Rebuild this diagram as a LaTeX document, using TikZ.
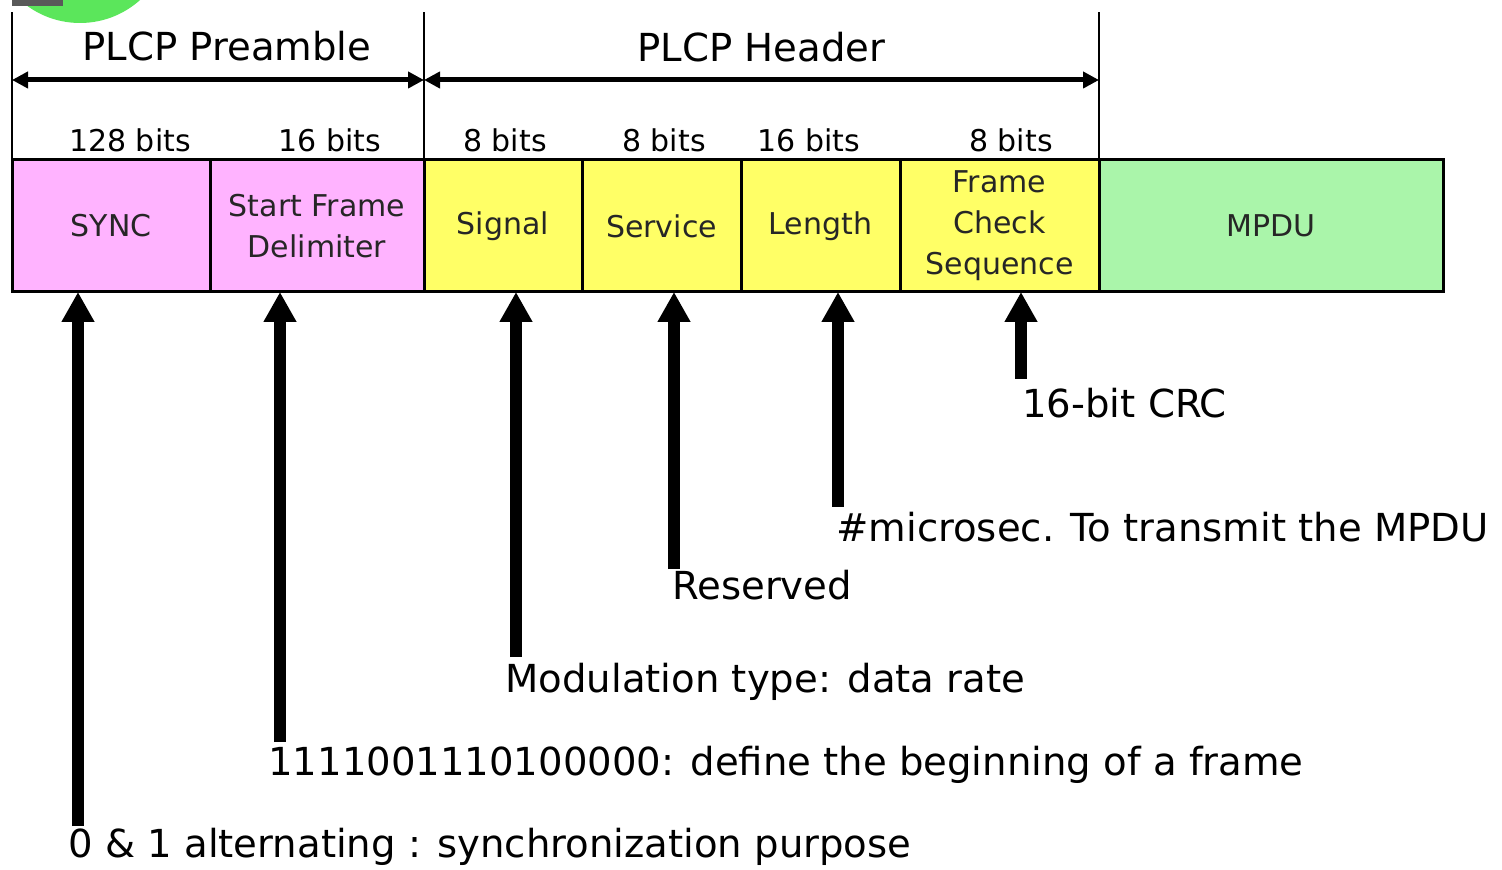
\documentclass[tikz,border=0pt]{standalone}
\usepackage{fontspec}
\setmainfont{DejaVu Sans}
\usetikzlibrary{arrows.meta,positioning}
\definecolor{preamblepink}{HTML}{FFB3FF}
\definecolor{headeryellow}{HTML}{FFFF66}
\definecolor{mpdugreen}{HTML}{AAF5AA}
\definecolor{blobgreen}{HTML}{5BE65B}
\tikzset{
  field/.style={draw,line width=1.5pt,minimum height=66pt,inner sep=0pt,outer sep=0pt,
    align=center,text=black!85,font=\fontsize{15}{20.5}\selectfont},
  bits/.style={anchor=base,inner sep=0pt,font=\fontsize{15}{18}\selectfont},
  big/.style={inner sep=0pt,font=\fontsize{19.3}{23}\selectfont},
  note/.style={big,anchor=base west},
  bar/.style={line width=1pt},
  span/.style={line width=2.5pt,{Triangle[width=8pt,length=8pt]}-{Triangle[width=8pt,length=8pt]}},
  pointer/.style={line width=6pt,-{Triangle[width=15.5pt,length=15pt]}},
}

\begin{document}
\begin{tikzpicture}[x=0.5pt,y=-0.5pt]
\useasboundingbox (0,0) rectangle (1502,870);
% slide leftovers in the corner
\begin{scope}
\clip (0,0) rectangle (1502,870);
\fill[blobgreen] (80,-67) circle [radius=45pt];
\fill[gray!70!black] (12,0) rectangle (63,6);
\end{scope}

% frame fields
\node[field,fill=preamblepink,minimum width=99pt,anchor=north west] (sync) at (12,160) {SYNC};
\node[field,fill=preamblepink,minimum width=107pt,right=0pt of sync] (sfd) {Start Frame\\Delimiter};
\node[field,fill=headeryellow,minimum width=79pt,right=0pt of sfd] (signal) {Signal};
\node[field,fill=headeryellow,minimum width=79.5pt,right=0pt of signal] (service) {Service};
\node[field,fill=headeryellow,minimum width=79.5pt,right=0pt of service] (length) {Length};
\node[field,fill=headeryellow,minimum width=99.5pt,right=0pt of length] (fcs) {Frame\\Check\\Sequence};
\node[field,fill=mpdugreen,minimum width=172pt,right=0pt of fcs] (mpdu) {MPDU};

% sizes
\node[bits] (b128) at (130,152) {128 bits};
\node[bits] (b16a) at (330,152) {16 bits};
\node[bits] (b8a) at (505,152) {8 bits};
\node[bits] (b8b) at (664,152) {8 bits};
\node[bits] (b16b) at (809,152) {16 bits};
\node[bits] (b8c) at (1011,152) {8 bits};

% preamble / header spans
\draw[bar] (sync.north west) -- ++(0,-148);
\draw[bar] (signal.north west) -- ++(0,-148);
\draw[bar] (mpdu.north west) -- ++(0,-148);
\draw[span] ([yshift=40pt]sync.north west) -- ([yshift=40pt]signal.north west)
  node[big,midway,anchor=base,yshift=9.5pt,xshift=4.5pt] (pre) {PLCP Preamble};
\draw[span] ([yshift=40pt]signal.north west) -- ([yshift=40pt]mpdu.north west)
  node[big,midway,anchor=base,yshift=9pt] (hdr) {PLCP Header};

% field notes
\node[note] (l0) at (68,857) {0 \& 1 alternating : synchronization purpose};
\node[note] (l1) at (268,775) {1111001110100000: define the beginning of a frame};
\node[note] (l2) at (505,692) {Modulation type: data rate};
\node[note] (l3) at (672,599) {Reserved};
\node[note] (l4) at (836,541) {\#microsec. To transmit the MPDU};
\node[note] (l5) at (1022,418) {16-bit CRC};

\coordinate (t0) at ([xshift=5pt,yshift=15.5pt]l0.base west);
\coordinate (t1) at ([xshift=6pt,yshift=16.5pt]l1.base west);
\coordinate (t2) at ([xshift=5.5pt,yshift=17.5pt]l2.base west);
\coordinate (t3) at ([xshift=1pt,yshift=15pt]l3.base west);
\coordinate (t4) at ([xshift=1pt,yshift=17pt]l4.base west);
\coordinate (t5) at ([xshift=-0.5pt,yshift=19.5pt]l5.base west);
\draw[pointer] (t0) -- (t0 |- sync.south);
\draw[pointer] (t1) -- (t1 |- sfd.south);
\draw[pointer] (t2) -- (t2 |- signal.south);
\draw[pointer] (t3) -- (t3 |- service.south);
\draw[pointer] (t4) -- (t4 |- length.south);
\draw[pointer] (t5) -- (t5 |- fcs.south);
\end{tikzpicture}
\end{document}
